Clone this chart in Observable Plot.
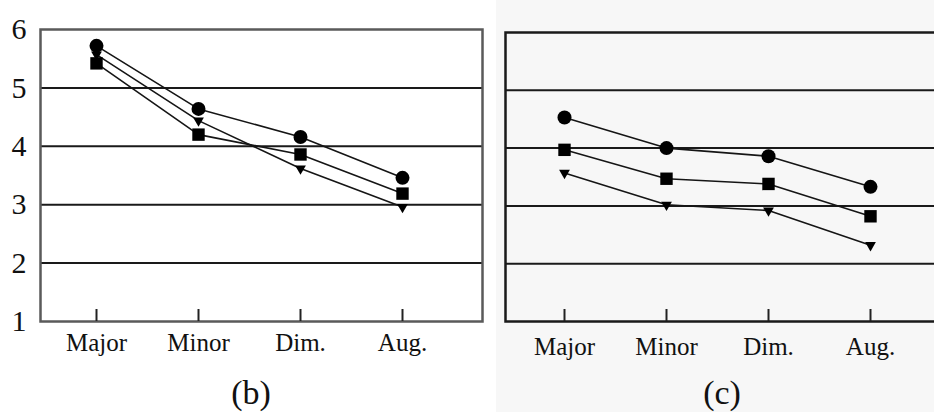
<!DOCTYPE html>
<html>
<head>
<meta charset="utf-8">
<script src="https://cdn.jsdelivr.net/npm/d3@7"></script>
<script src="https://cdn.jsdelivr.net/npm/@observablehq/plot@0.6"></script>
<style>
  html, body { margin: 0; padding: 0; background: #fff; }
  #page { position: relative; width: 934px; height: 412px; overflow: hidden; font-family: "Liberation Serif", "Times New Roman", serif; }
  #tint { position: absolute; left: 496px; top: 0; width: 438px; height: 412px; background: #f7f7f7; }
  #pb { position: absolute; left: 0; top: 0; }
  #pc { position: absolute; left: 490px; top: 0; width: 460px; }
  .cap { position: absolute; top: 374px; height: 38px; line-height: 38px; font-size: 34px; text-align: center; width: 80px; color: #111; }
</style>
</head>
<body>
<div id="page">
  <div id="tint"></div>
  <div id="pb"></div>
  <div id="pc"></div>
  <div class="cap" style="left:211px">(b)</div>
  <div class="cap" style="left:682px">(c)</div>
</div>
<script>
const categories = ["Major", "Minor", "Dim.", "Aug."];
const yTicks = [1, 2, 3, 4, 5, 6];
const gridTicks = [2, 3, 4, 5];

// panel (b)
const bCircle   = [5.72, 4.64, 4.16, 3.46];
const bTriangle = [5.57, 4.44, 3.62, 2.96];
const bSquare   = [5.42, 4.20, 3.86, 3.19];

// panel (c)
const cCircle   = [4.53, 4.00, 3.86, 3.33];
const cSquare   = [3.97, 3.47, 3.38, 2.82];
const cTriangle = [3.57, 3.02, 2.92, 2.32];

function rows(vals, series) {
  return categories.map((c, i) => ({cat: c, v: vals[i], series}));
}

function panel({circle, square, triangle, width, height, marginLeft, marginTop, marginBottom, marginRight, xRange, yAxis, frameStroke, tickPad}) {
  const frameH = height - marginTop - marginBottom;
  const marks = [
    Plot.gridY(gridTicks, {stroke: "#1a1a1a", strokeOpacity: 1, strokeWidth: 2}),
    Plot.frame({stroke: frameStroke, strokeWidth: 2.5}),
    Plot.tickX(categories, {x: d => d, stroke: "#222", strokeWidth: 2, insetTop: frameH - 12}),
    Plot.axisX({tickSize: 0, tickPadding: tickPad, fontSize: 25, fill: "#111", stroke: "#111", strokeWidth: 0.3}),
  ];
  if (yAxis) marks.push(Plot.axisY(yTicks, {tickSize: 0, tickPadding: 14, fontSize: 30, fill: "#111", stroke: "#111", strokeWidth: 0.3, tickFormat: d => String(d)}));
  const series = [
    {d: rows(circle, "circle"), symbol: "circle", r: 7, rotate: 0},
    {d: rows(triangle, "triangle"), symbol: "triangle", r: 4, rotate: 180},
    {d: rows(square, "square"), symbol: "square", r: 7, rotate: 0},
  ];
  for (const s of series) {
    marks.push(Plot.line(s.d, {x: "cat", y: "v", stroke: "#151515", strokeWidth: 1.6}));
  }
  for (const s of series) {
    marks.push(Plot.dot(s.d, {x: "cat", y: "v", symbol: () => s.symbol, r: s.r, rotate: s.rotate, fill: "#000", stroke: "none"}));
  }
  return Plot.plot({
    width, height, marginLeft, marginTop, marginBottom, marginRight,
    style: {background: "transparent", fontFamily: "Liberation Serif, Times New Roman, serif", color: "#111"},
    x: {type: "point", domain: categories, range: xRange, padding: 0, label: null, axis: null},
    y: {domain: [1, 6], label: null, axis: null},
    symbol: {type: "identity"},
    marks
  });
}

document.getElementById("pb").appendChild(panel({
  circle: bCircle, square: bSquare, triangle: bTriangle,
  width: 490, height: 365, marginLeft: 40, marginTop: 29, marginBottom: 44, marginRight: 8,
  xRange: [96, 402], yAxis: true, frameStroke: "#5a5a5a", tickPad: 12
}));

document.getElementById("pc").appendChild(panel({
  circle: cCircle, square: cSquare, triangle: cTriangle,
  width: 460, height: 365, marginLeft: 15, marginTop: 32, marginBottom: 44, marginRight: 0,
  xRange: [72.7, 380.7], yAxis: false, frameStroke: "#1a1a1a", tickPad: 16
}));
</script>
</body>
</html>
